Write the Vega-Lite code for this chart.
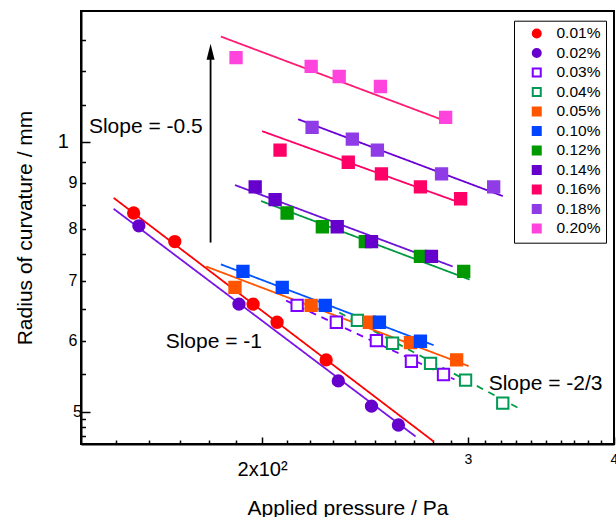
{
  "$schema": "https://vega.github.io/schema/vega-lite/v6.json",
  "width": 533,
  "height": 433,
  "autosize": {"type": "none"},
  "padding": {"left": 81, "top": 11, "right": 2, "bottom": 73},
  "background": "white",
  "config": {
    "font": "Liberation Sans",
    "view": {"stroke": "black", "strokeWidth": 2},
    "axis": {
      "grid": false, "domainColor": "black", "domainWidth": 2,
      "tickColor": "black", "tickWidth": 1.5,
      "labelColor": "black", "titleColor": "black",
      "labelFont": "Liberation Sans", "titleFont": "Liberation Sans",
      "titleFontWeight": "normal", "titleFontSize": 21,
      "labelOverlap": false, "labelFlush": false, "labelBound": false
    }
  },
  "datasets": {
    "pts": [
      {"s": "0.01%", "p": 155.3, "r": 0.833}, {"s": "0.01%", "p": 168.4, "r": 0.774}, {"s": "0.01%", "p": 196.5, "r": 0.659}, {"s": "0.01%", "p": 206.0, "r": 0.629}, {"s": "0.01%", "p": 226.9, "r": 0.571},
      {"s": "0.02%", "p": 156.9, "r": 0.806}, {"s": "0.02%", "p": 191.1, "r": 0.659}, {"s": "0.02%", "p": 232.4, "r": 0.541}, {"s": "0.02%", "p": 248.1, "r": 0.507}, {"s": "0.02%", "p": 261.6, "r": 0.483},
      {"s": "0.03%", "p": 214.3, "r": 0.657}, {"s": "0.03%", "p": 231.5, "r": 0.629}, {"s": "0.03%", "p": 250.5, "r": 0.600}, {"s": "0.03%", "p": 268.4, "r": 0.569}, {"s": "0.03%", "p": 285.9, "r": 0.550},
      {"s": "0.04%", "p": 241.3, "r": 0.632}, {"s": "0.04%", "p": 258.6, "r": 0.596}, {"s": "0.04%", "p": 278.7, "r": 0.566}, {"s": "0.04%", "p": 298.6, "r": 0.542}, {"s": "0.04%", "p": 321.3, "r": 0.511},
      {"s": "0.05%", "p": 189.6, "r": 0.688}, {"s": "0.05%", "p": 220.3, "r": 0.657}, {"s": "0.05%", "p": 247.1, "r": 0.629}, {"s": "0.05%", "p": 267.9, "r": 0.597}, {"s": "0.05%", "p": 293.4, "r": 0.571},
      {"s": "0.10%", "p": 192.6, "r": 0.717}, {"s": "0.10%", "p": 208.1, "r": 0.688}, {"s": "0.10%", "p": 226.5, "r": 0.657}, {"s": "0.10%", "p": 252.0, "r": 0.629}, {"s": "0.10%", "p": 273.2, "r": 0.599},
      {"s": "0.12%", "p": 210.1, "r": 0.833}, {"s": "0.12%", "p": 225.2, "r": 0.804}, {"s": "0.12%", "p": 245.1, "r": 0.774}, {"s": "0.12%", "p": 273.2, "r": 0.745}, {"s": "0.12%", "p": 297.5, "r": 0.717},
      {"s": "0.14%", "p": 197.3, "r": 0.891}, {"s": "0.14%", "p": 205.2, "r": 0.862}, {"s": "0.14%", "p": 231.9, "r": 0.804}, {"s": "0.14%", "p": 248.1, "r": 0.774}, {"s": "0.14%", "p": 279.2, "r": 0.745},
      {"s": "0.16%", "p": 207.2, "r": 0.979}, {"s": "0.16%", "p": 237.0, "r": 0.949}, {"s": "0.16%", "p": 253.0, "r": 0.921}, {"s": "0.16%", "p": 273.2, "r": 0.891}, {"s": "0.16%", "p": 295.7, "r": 0.864},
      {"s": "0.18%", "p": 220.7, "r": 1.038}, {"s": "0.18%", "p": 238.9, "r": 1.007}, {"s": "0.18%", "p": 251.0, "r": 0.979}, {"s": "0.18%", "p": 284.8, "r": 0.921}, {"s": "0.18%", "p": 315.6, "r": 0.891},
      {"s": "0.20%", "p": 190.0, "r": 1.242}, {"s": "0.20%", "p": 220.3, "r": 1.214}, {"s": "0.20%", "p": 232.8, "r": 1.183}, {"s": "0.20%", "p": 252.5, "r": 1.153}, {"s": "0.20%", "p": 287.1, "r": 1.065}
    ],
    "fits": [
      {"s": "0.01%", "p": 149.3, "r": 0.866}, {"s": "0.01%", "p": 280.4, "r": 0.463},
      {"s": "0.02%", "p": 149.3, "r": 0.842}, {"s": "0.02%", "p": 270.6, "r": 0.469},
      {"s": "0.03%", "p": 209.7, "r": 0.665}, {"s": "0.03%", "p": 292.2, "r": 0.543},
      {"s": "0.04%", "p": 232.8, "r": 0.645}, {"s": "0.04%", "p": 330.9, "r": 0.505},
      {"s": "0.05%", "p": 179.1, "r": 0.726}, {"s": "0.05%", "p": 300.4, "r": 0.562},
      {"s": "0.10%", "p": 184.4, "r": 0.730}, {"s": "0.10%", "p": 280.4, "r": 0.593},
      {"s": "0.12%", "p": 199.6, "r": 0.859}, {"s": "0.12%", "p": 301.0, "r": 0.702},
      {"s": "0.14%", "p": 189.6, "r": 0.895}, {"s": "0.14%", "p": 291.1, "r": 0.726},
      {"s": "0.16%", "p": 200.0, "r": 1.028}, {"s": "0.16%", "p": 298.6, "r": 0.851},
      {"s": "0.18%", "p": 214.7, "r": 1.060}, {"s": "0.18%", "p": 321.3, "r": 0.870},
      {"s": "0.20%", "p": 184.4, "r": 1.311}, {"s": "0.20%", "p": 290.5, "r": 1.049}
    ],
    "notes": [
      {"t": "Slope = -0.5", "p": 142.2, "r": 1.024},
      {"t": "Slope = -1", "p": 165.4, "r": 0.589},
      {"t": "Slope = -2/3", "p": 312.5, "r": 0.529}
    ],
    "arrow": [{"p": 180.7, "r": 0.772, "r2": 1.248}],
    "head": [{"p": 180.7, "r": 1.261}]
  },
  "layer": [
    {
      "data": {"name": "fits"},
      "mark": {"type": "line", "strokeWidth": 1.8},
      "encoding": {
        "x": {"field": "p", "type": "quantitative",
          "scale": {"type": "log", "domain": [140, 400], "nice": false, "zero": false},
          "axis": {
            "title": "Applied pressure / Pa",
            "values": [150, 160, 170, 180, 190, 200, 210, 220, 230, 240, 250, 260, 270, 280, 290, 300, 310, 320, 330, 340, 350, 360, 370, 380, 390, 400],
            "labelExpr": "datum.value == 200 ? '2x10²' : datum.value == 300 ? '3' : datum.value == 400 ? '4' : ''",
            "tickSize": {"condition": {"test": "datum.value == 200 || datum.value == 300 || datum.value == 400", "value": -7}, "value": -4},
            "labelPadding": {"condition": {"test": "datum.value == 200", "value": 22}, "value": 15},
            "labelFontSize": {"condition": {"test": "datum.value == 200", "value": 20}, "value": 14},
            "titleY": 70, "titleBaseline": "alphabetic"
          }
        },
        "y": {"field": "r", "type": "quantitative",
          "scale": {"type": "log", "domain": [0.46, 1.4], "nice": false, "zero": false},
          "axis": {
            "title": "Radius of curvature / mm",
            "values": [0.47, 0.48, 0.49, 0.5, 0.55, 0.6, 0.65, 0.7, 0.75, 0.8, 0.85, 0.9, 0.95, 1.0, 1.1, 1.2, 1.3],
            "labelExpr": "datum.value == 1 ? '1' : datum.value == 0.5 ? '5' : datum.value == 0.6 ? '6' : datum.value == 0.7 ? '7' : datum.value == 0.8 ? '8' : datum.value == 0.9 ? '9' : ''",
            "tickSize": {"condition": {"test": "datum.value == 1 || datum.value == 0.5", "value": -9}, "value": -4.5},
            "labelPadding": {"condition": {"test": "datum.value == 1", "value": 21.7}, "value": 8.5},
            "labelFontSize": {"condition": {"test": "datum.value == 1", "value": 20}, "value": 16},
            "titleX": -50, "titleY": 216.5, "titleBaseline": "alphabetic"
          }
        },
        "detail": {"field": "s"},
        "stroke": {"field": "s", "type": "nominal", "legend": null,
          "scale": {"domain": ["0.01%", "0.02%", "0.03%", "0.04%", "0.05%", "0.10%", "0.12%", "0.14%", "0.16%", "0.18%", "0.20%"],
            "range": ["#FF0000", "#7A14E6", "#7F00FF", "#009944", "#FF5500", "#0055FF", "#009944", "#6E14D6", "#FF0066", "#6A00D8", "#FF1A75"]}},
        "strokeDash": {"field": "s", "type": "nominal", "legend": null,
          "scale": {"domain": ["0.01%", "0.02%", "0.03%", "0.04%", "0.05%", "0.10%", "0.12%", "0.14%", "0.16%", "0.18%", "0.20%"],
            "range": [[1, 0], [1, 0], [7, 6], [7, 6], [1, 0], [1, 0], [1, 0], [1, 0], [1, 0], [1, 0], [1, 0]]}}
      }
    },
    {
      "data": {"name": "pts"},
      "mark": {"type": "point", "filled": true, "size": 128, "strokeWidth": 2, "opacity": 1},
      "encoding": {
        "x": {"field": "p", "type": "quantitative", "scale": {"type": "log", "domain": [140, 400], "nice": false, "zero": false}},
        "y": {"field": "r", "type": "quantitative", "scale": {"type": "log", "domain": [0.46, 1.4], "nice": false, "zero": false}},
        "fill": {"field": "s", "type": "nominal", "legend": null,
          "scale": {"domain": ["0.01%", "0.02%", "0.03%", "0.04%", "0.05%", "0.10%", "0.12%", "0.14%", "0.16%", "0.18%", "0.20%"],
            "range": ["#FF0000", "#6600CC", "#FFFFFF", "#FFFFFF", "#FF5500", "#0044FF", "#009900", "#6600CC", "#FF0066", "#8F3CE6", "#FF44DD"]}},
        "stroke": {"field": "s", "type": "nominal",
          "scale": {"domain": ["0.01%", "0.02%", "0.03%", "0.04%", "0.05%", "0.10%", "0.12%", "0.14%", "0.16%", "0.18%", "0.20%"],
            "range": ["#FF0000", "#6600CC", "#7F00FF", "#009955", "#FF5500", "#0044FF", "#009900", "#6600CC", "#FF0066", "#8F3CE6", "#FF44DD"]},
          "legend": {"title": null, "orient": "none", "legendX": 433, "legendY": 9.7, "strokeColor": "black", "fillColor": "white", "padding": 5, "symbolOffset": 10, "labelOffset": 12, "labelFontSize": 15.5, "labelFont": "Liberation Sans", "labelColor": "black", "rowPadding": 1.5, "symbolSize": 64, "symbolStrokeWidth": 2, "symbolOpacity": 1,
            "symbolType": {"expr": "datum.value == '0.01%' || datum.value == '0.02%' ? 'circle' : 'square'"},
            "symbolFillColor": {"expr": "datum.value == '0.01%' ? '#FF0000' : datum.value == '0.02%' ? '#6600CC' : datum.value == '0.03%' ? '#FFFFFF' : datum.value == '0.04%' ? '#FFFFFF' : datum.value == '0.05%' ? '#FF5500' : datum.value == '0.10%' ? '#0044FF' : datum.value == '0.12%' ? '#009900' : datum.value == '0.14%' ? '#6600CC' : datum.value == '0.16%' ? '#FF0066' : datum.value == '0.18%' ? '#8F3CE6' : '#FF44DD'"}
          }},
        "shape": {"field": "s", "type": "nominal", "legend": null,
          "scale": {"domain": ["0.01%", "0.02%", "0.03%", "0.04%", "0.05%", "0.10%", "0.12%", "0.14%", "0.16%", "0.18%", "0.20%"],
            "range": ["circle", "circle", "square", "square", "square", "square", "square", "square", "square", "square", "square"]}}
      }
    },
    {
      "data": {"name": "arrow"},
      "mark": {"type": "rule", "color": "black", "strokeWidth": 1.8},
      "encoding": {
        "x": {"field": "p", "type": "quantitative", "scale": {"type": "log", "domain": [140, 400], "nice": false, "zero": false}},
        "y": {"field": "r", "type": "quantitative", "scale": {"type": "log", "domain": [0.46, 1.4], "nice": false, "zero": false}},
        "y2": {"field": "r2"}
      }
    },
    {
      "data": {"name": "head"},
      "mark": {"type": "point", "shape": "M-0.5,1L0,-1L0.5,1Z", "size": 256, "filled": true, "color": "black", "opacity": 1, "strokeWidth": 0},
      "encoding": {
        "x": {"field": "p", "type": "quantitative", "scale": {"type": "log", "domain": [140, 400], "nice": false, "zero": false}},
        "y": {"field": "r", "type": "quantitative", "scale": {"type": "log", "domain": [0.46, 1.4], "nice": false, "zero": false}}
      }
    },
    {
      "data": {"name": "notes"},
      "mark": {"type": "text", "align": "left", "baseline": "alphabetic", "fontSize": 21, "font": "Liberation Sans", "color": "black"},
      "encoding": {
        "x": {"field": "p", "type": "quantitative", "scale": {"type": "log", "domain": [140, 400], "nice": false, "zero": false}},
        "y": {"field": "r", "type": "quantitative", "scale": {"type": "log", "domain": [0.46, 1.4], "nice": false, "zero": false}},
        "text": {"field": "t"}
      }
    }
  ],
  "resolve": {"scale": {"stroke": "independent"}, "legend": {"stroke": "independent"}}
}
